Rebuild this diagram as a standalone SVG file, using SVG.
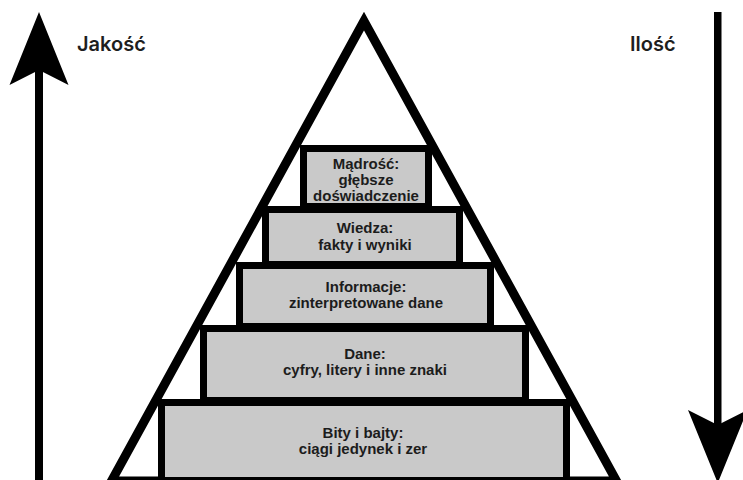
<svg xmlns="http://www.w3.org/2000/svg" width="743" height="480" viewBox="0 0 743 480">
  <style>
    .box { fill: #c9c9c9; stroke: #000; stroke-width: 7; }
    .lbl { font-family: "Liberation Sans", Arial, sans-serif; font-weight: bold; font-size: 15px; fill: #1c1c1c; text-anchor: middle; }
    .axis { font-family: Inter, "Noto Sans", sans-serif; font-weight: 600; font-size: 20px; fill: #1e1e1e; }
  </style>
  <rect width="743" height="480" fill="#ffffff"/>
  <g id="pyramid">
    <polygon points="364,21 111.5,481 616.5,481" fill="none" stroke="#000" stroke-width="9" stroke-linejoin="miter"/>
  </g>
  <g id="level-bity">
    <rect class="box" x="161.5" y="402.5" width="405" height="78"/>
    <text class="lbl" x="363" y="438">Bity i bajty:</text>
    <text class="lbl" x="363" y="454">ciągi jedynek i zer</text>
  </g>
  <g id="level-dane">
    <rect class="box" x="203.5" y="328.5" width="322" height="72"/>
    <text class="lbl" x="365" y="359">Dane:</text>
    <text class="lbl" x="365" y="375">cyfry, litery i inne znaki</text>
  </g>
  <g id="level-informacje">
    <rect class="box" x="239.5" y="265.5" width="251" height="61"/>
    <text class="lbl" x="366" y="292">Informacje:</text>
    <text class="lbl" x="366" y="308">zinterpretowane dane</text>
  </g>
  <g id="level-wiedza">
    <rect class="box" x="265.5" y="209.5" width="194" height="55"/>
    <text class="lbl" x="365" y="233">Wiedza:</text>
    <text class="lbl" x="365" y="250">fakty i wyniki</text>
  </g>
  <g id="level-madrosc">
    <rect class="box" x="303.5" y="148.5" width="125" height="58"/>
    <text class="lbl" x="366" y="169">Mądrość:</text>
    <text class="lbl" x="366" y="185">głębsze</text>
    <text class="lbl" x="366" y="201">doświadczenie</text>
  </g>
  <g id="connectors">
    <g id="arrow-jakosc">
      <rect x="35" y="68" width="8" height="412" fill="#000"/>
      <polygon points="39,12 68.5,85 39,70 9.5,85" fill="#000"/>
    </g>
    <g id="arrow-ilosc">
      <rect x="714" y="12" width="7.5" height="416" fill="#000"/>
      <polygon points="688,410 717.75,425 747.5,410 717.75,483" fill="#000"/>
    </g>
  </g>
  <g id="label-jakosc">
    <text class="axis" x="77" y="51">Jakość</text>
  </g>
  <g id="label-ilosc">
    <text class="axis" x="630" y="51">Ilość</text>
  </g>
</svg>
